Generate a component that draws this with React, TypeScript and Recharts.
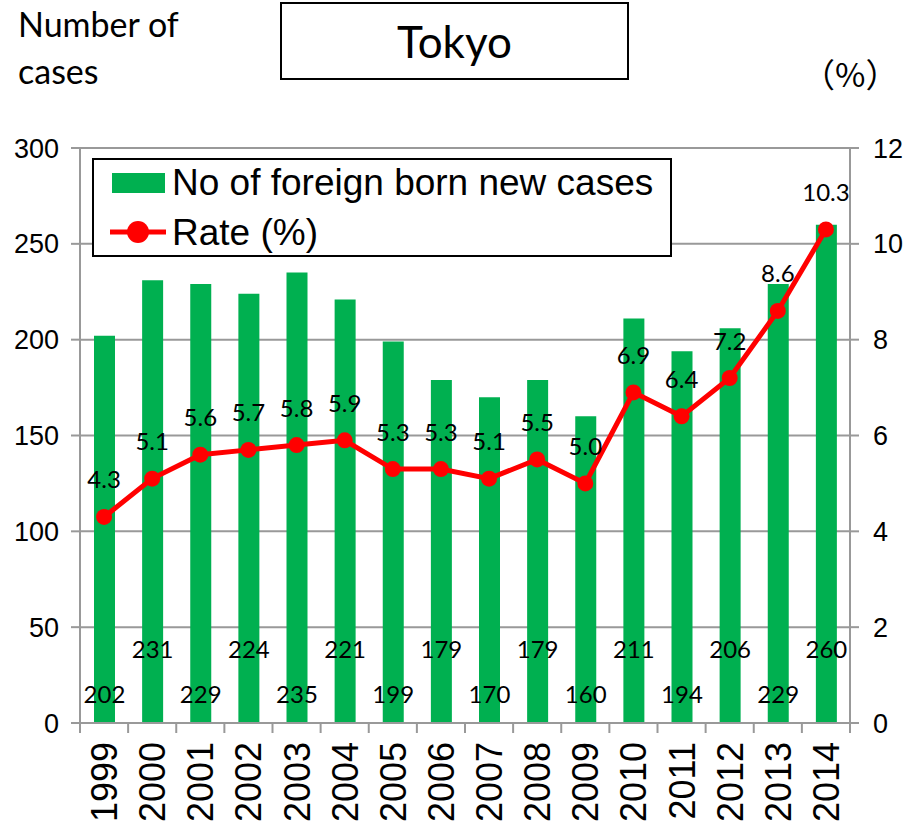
import React from 'react';
import { ComposedChart, Bar, Line, XAxis, YAxis, CartesianGrid, Legend, LabelList } from 'recharts';

const years = ['1999','2000','2001','2002','2003','2004','2005','2006','2007','2008','2009','2010','2011','2012','2013','2014'];
const cases = [202,231,229,224,235,221,199,179,170,179,160,211,194,206,229,260];
const rates = [4.3,5.1,5.6,5.7,5.8,5.9,5.3,5.3,5.1,5.5,5.0,6.9,6.4,7.2,8.6,10.3];
const leftTicks = [0,50,100,150,200,250,300];
const rightTicks = [0,2,4,6,8,10,12];

const data = years.map((y, i) => ({ year: y, cases: cases[i], rate: rates[i] }));

const W = 908;
const H = 829;
const LEFT_W = 80;
const RIGHT_W = 58;
const BAND = (W - LEFT_W - RIGHT_W) / years.length;
const GREY = '#999999';
const GREEN = '#00B050';
const RED = '#FF0000';
const LABEL_FONT = 'Lato, "Open Sans", sans-serif';
const AXIS_FONT = '"Liberation Sans", Arial, sans-serif';

const XTick = (props: any) => {
  const { x, y, payload, index } = props;
  const half = BAND / 2;
  return (
    <g>
      <line x1={x - half} x2={x - half} y1={y} y2={y + 10} stroke={GREY} strokeWidth={2} />
      {index === years.length - 1 && (
        <line x1={x + half} x2={x + half} y1={y} y2={y + 10} stroke={GREY} strokeWidth={2} />
      )}
      <text
        x={x}
        y={y + 19}
        transform={`rotate(-90, ${x}, ${y + 19})`}
        textAnchor="end"
        dy="0.36em"
        fontSize={36}
        fontFamily={AXIS_FONT}
        fill="#000"
      >
        {payload.value}
      </text>
    </g>
  );
};

const BarLabel = (props: any) => {
  const { x, y, width, height, value, index } = props;
  const bottom = y + height;
  const cy = index % 2 === 0 ? bottom - 30 : bottom - 75;
  return (
    <text
      x={x + width / 2}
      y={cy}
      textAnchor="middle"
      dominantBaseline="central"
      fontSize={24}
      fontFamily={LABEL_FONT}
      fill="#000"
    >
      {value}
    </text>
  );
};

const LineLabel = (props: any) => {
  const { x, y, value } = props;
  return (
    <text
      x={x}
      y={y - 38}
      textAnchor="middle"
      dominantBaseline="central"
      fontSize={24}
      fontFamily={LABEL_FONT}
      fill="#000"
    >
      {Number(value).toFixed(1)}
    </text>
  );
};

const LegendBox = () => (
  <div
    style={{
      position: 'absolute',
      left: 0,
      top: 0,
      width: 580,
      height: 99,
      border: '2px solid #000',
      boxSizing: 'border-box',
      background: '#fff',
      fontFamily: AXIS_FONT,
      fontSize: 37,
      lineHeight: 1,
      color: '#000',
    }}
  >
    <div style={{ position: 'absolute', left: 18, top: 13, width: 53, height: 20, background: GREEN }} />
    <div style={{ position: 'absolute', left: 78, top: 4, whiteSpace: 'nowrap' }}>No of foreign born new cases</div>
    <svg style={{ position: 'absolute', left: 0, top: 0 }} width={90} height={97}>
      <line x1={16} x2={72} y1={72} y2={72} stroke={RED} strokeWidth={5} />
      <circle cx={44} cy={72} r={11} fill={RED} />
    </svg>
    <div style={{ position: 'absolute', left: 78, top: 54, whiteSpace: 'nowrap' }}>Rate (%)</div>
  </div>
);

export default function App() {
  return (
    <div style={{ position: 'absolute', left: 0, top: 0, width: W, height: H, background: '#fff' }}>
      <div
        style={{
          position: 'absolute',
          left: 18,
          top: 0,
          fontFamily: LABEL_FONT,
          fontSize: 34,
          lineHeight: '47px',
          color: '#000',
        }}
      >
        Number of
        <br />
        cases
      </div>
      <div
        style={{
          position: 'absolute',
          left: 280,
          top: 2,
          width: 349,
          height: 78,
          border: '2px solid #000',
          boxSizing: 'border-box',
          display: 'flex',
          alignItems: 'center',
          justifyContent: 'center',
          fontFamily: LABEL_FONT,
          fontSize: 44,
          color: '#000',
        }}
      >
        Tokyo
      </div>
      <div
        style={{
          position: 'absolute',
          left: 802,
          top: 54,
          fontFamily: '"Noto Sans CJK JP", sans-serif',
          fontSize: 33,
          lineHeight: 1.2,
          color: '#000',
          whiteSpace: 'nowrap',
        }}
      >
        （%）
      </div>
      <ComposedChart
        width={W}
        height={H}
        data={data}
        margin={{ top: 148, right: 0, bottom: 0, left: 0 }}
        barCategoryGap={0}
      >
        <CartesianGrid yAxisId="l" vertical={false} stroke={GREY} strokeWidth={2} />
        <XAxis
          dataKey="year"
          height={106}
          axisLine={{ stroke: GREY, strokeWidth: 2 }}
          tickLine={false}
          tickSize={0}
          tickMargin={0}
          interval={0}
          tick={<XTick />}
        />
        <YAxis
          yAxisId="l"
          width={LEFT_W}
          domain={[0, 300]}
          ticks={leftTicks}
          axisLine={{ stroke: GREY, strokeWidth: 2 }}
          tickLine={{ stroke: GREY, strokeWidth: 2 }}
          tickSize={9}
          tickMargin={12}
          tick={{ fontSize: 27, fontFamily: AXIS_FONT, fill: '#000' }}
        />
        <YAxis
          yAxisId="r"
          orientation="right"
          width={RIGHT_W}
          domain={[0, 12]}
          ticks={rightTicks}
          axisLine={{ stroke: GREY, strokeWidth: 2 }}
          tickLine={{ stroke: GREY, strokeWidth: 2 }}
          tickSize={9}
          tickMargin={14}
          tick={{ fontSize: 27, fontFamily: AXIS_FONT, fill: '#000' }}
        />
        <Legend
          content={<LegendBox />}
          wrapperStyle={{ position: 'absolute', left: 92, top: 158, width: 0, height: 0, overflow: 'visible' }}
        />
        <Bar yAxisId="l" dataKey="cases" name="No of foreign born new cases" fill={GREEN} barSize={21} isAnimationActive={false}>
          <LabelList dataKey="cases" content={<BarLabel />} />
        </Bar>
        <Line
          yAxisId="r"
          dataKey="rate"
          name="Rate (%)"
          stroke={RED}
          strokeWidth={5}
          dot={{ r: 8, fill: RED, stroke: 'none' }}
          activeDot={false}
          isAnimationActive={false}
        >
          <LabelList dataKey="rate" content={<LineLabel />} />
        </Line>
      </ComposedChart>
    </div>
  );
}
